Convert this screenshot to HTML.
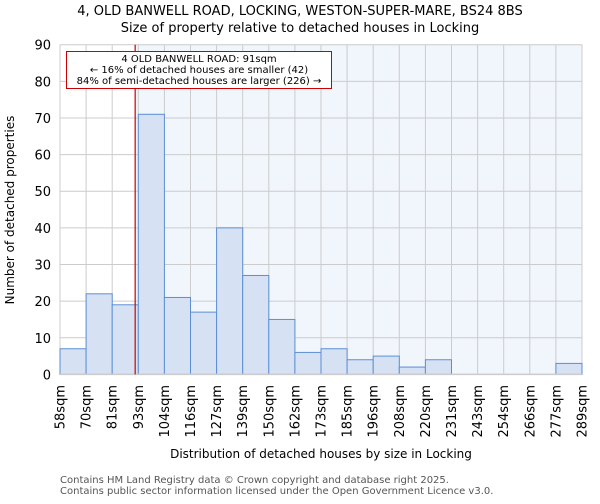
<!DOCTYPE html>
<html><head><meta charset="utf-8"><style>
body{margin:0;background:#fff;font-family:"DejaVu Sans","Liberation Sans",sans-serif}
</style></head><body>
<svg id="chart" width="600" height="500" xmlns="http://www.w3.org/2000/svg" font-family="DejaVu Sans, Liberation Sans, sans-serif">
<text x="300" y="15" text-anchor="middle" font-size="13">4, OLD BANWELL ROAD, LOCKING, WESTON-SUPER-MARE, BS24 8BS</text>
<text x="300" y="32" text-anchor="middle" font-size="13">Size of property relative to detached houses in Locking</text>
<g id="plot"></g>
<text transform="translate(14,210) rotate(-90)" text-anchor="middle" font-size="12">Number of detached properties</text>
<text x="321" y="458" text-anchor="middle" font-size="12">Distribution of detached houses by size in Locking</text>
<text x="60" y="483" font-size="10" fill="#555">Contains HM Land Registry data © Crown copyright and database right 2025.</text>
<text x="60" y="494" font-size="10" fill="#555">Contains public sector information licensed under the Open Government Licence v3.0.</text>
</svg>
<script>
const binLabels=["58sqm","70sqm","81sqm","93sqm","104sqm","116sqm","127sqm","139sqm","150sqm","162sqm","173sqm","185sqm","196sqm","208sqm","220sqm","231sqm","243sqm","254sqm","266sqm","277sqm","289sqm"];
const counts=[7,22,19,71,21,17,40,27,15,6,7,4,5,2,4,0,0,0,0,3];
const yTicks=[0,10,20,30,40,50,60,70,80,90];
const propertyPos=2.88;
const NS="http://www.w3.org/2000/svg";
const X0=60,X1=582,Y0=374.4,Y1=44.7,yMax=90;
const n=counts.length;
const xs=i=>X0+(X1-X0)*i/n;
const ys=v=>Y0-(Y0-Y1)*v/yMax;
const g=document.getElementById('plot');
function mk(t,a){const e=document.createElementNS(NS,t);for(const k in a)e.setAttribute(k,a[k]);g.appendChild(e);return e;}
const px=xs(propertyPos);
let e=mk('rect',{x:X0,y:Y1,width:X1-X0,height:Y0-Y1,fill:'#fff'});


e=mk('rect',{x:px,y:Y1,width:X1-px,height:Y0-Y1,fill:'#f1f5fc'});


yTicks.forEach(v=>{
 e=mk('line',{x1:X0,x2:X1,y1:ys(v),y2:ys(v),stroke:'#ccc','stroke-width':1});
 
 
 e=mk('text',{x:X0-9,y:ys(v)+5,'text-anchor':'end','font-size':13});
 e.textContent=v;
 
 
});
binLabels.forEach((l,i)=>{
 e=mk('line',{x1:xs(i),x2:xs(i),y1:Y1,y2:Y0,stroke:'#ccc','stroke-width':1});
 
 
 e=mk('text',{transform:`translate(${xs(i)+4.5},385) rotate(-90)`,'text-anchor':'end','font-size':13});
 e.textContent=l;
 
 
});
counts.forEach((v,i)=>{
 if(v<=0)return;
 e=mk('rect',{x:xs(i),y:ys(v),width:xs(i+1)-xs(i),height:Y0-ys(v),fill:'#d6e2f4',stroke:'#5b8fd4','stroke-width':1});
 
 
});
e=mk('line',{x1:X0,x2:X1,y1:Y0,y2:Y0,stroke:'#ccc','stroke-width':1.5});


e=mk('line',{x1:px,x2:px,y1:Y1,y2:Y0,stroke:'#cc0000','stroke-width':1.2});


e=mk('rect',{x:66.5,y:51.5,width:265,height:37,fill:'#fff',stroke:'#cc0000','stroke-width':1});


["4 OLD BANWELL ROAD: 91sqm","← 16% of detached houses are smaller (42)","84% of semi-detached houses are larger (226) →"].forEach((t,i)=>{
 e=mk('text',{x:199,y:62+i*11,'text-anchor':'middle','font-size':10});
 e.textContent=t;
 
 
});
</script>
</body></html>
